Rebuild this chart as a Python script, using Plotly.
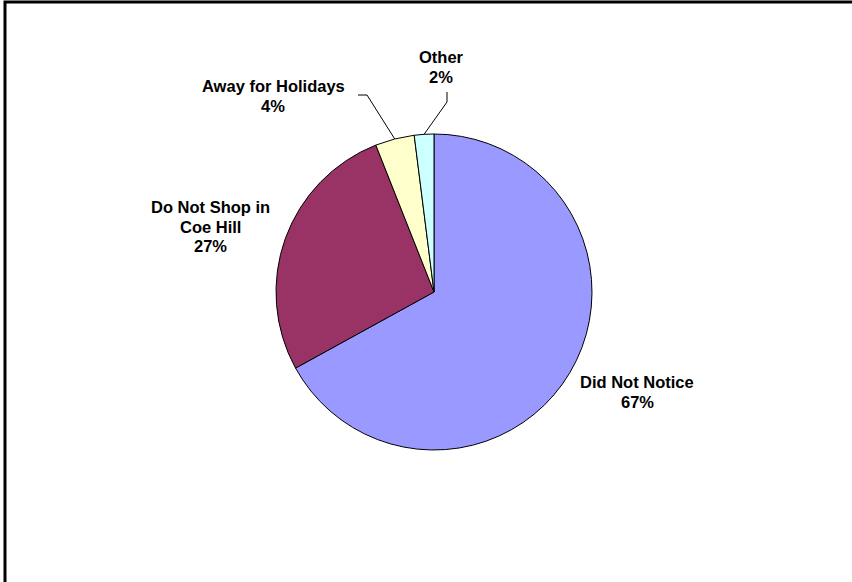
import math
import plotly.graph_objects as go

# Data
categories = ["Did Not Notice", "Do Not Shop in<br>Coe Hill", "Away for Holidays", "Other"]
values = [67, 27, 4, 2]
colors = ["#9999FF", "#993366", "#FFFFCC", "#CCFFFF"]

W, H = 852, 582
CX, CY, R = 434, 292, 158

fig = go.Figure()

fig.add_trace(go.Pie(
    labels=categories, values=values, sort=False, direction="clockwise", rotation=0,
    marker=dict(colors=colors, line=dict(color="#000000", width=1)),
    textinfo="none", hoverinfo="skip", showlegend=False,
    domain=dict(x=[(CX - R) / W, (CX + R) / W], y=[1 - (CY + R) / H, 1 - (CY - R) / H]),
))

# slice mid-angle anchors on the rim
total = sum(values)
cum = 0
anchors = []
pcts = []
for v in values:
    mid = (cum + v / 2) / total * 2 * math.pi
    anchors.append((CX + R * math.sin(mid), CY - R * math.cos(mid)))
    pcts.append(f"{round(v / total * 100)}%")
    cum += v

# label positions: center x, first-line center y (pixel coords)
label_pos = [(637, 382), (210, 207), (273, 86), (441, 57)]
LINE = 19.5

for i, (name, (lx, ly)) in enumerate(zip(categories, label_pos)):
    lines = name.split("<br>") + [pcts[i]]
    for j, t in enumerate(lines):
        fig.add_annotation(x=lx, y=ly + j * LINE, xref="x", yref="y", text=f"<b>{t}</b>",
                           showarrow=False,
                           font=dict(family="Liberation Sans, Arial", size=16.5, color="#000"),
                           xanchor="center", yanchor="middle", align="center")

# leader lines for small slices
ax, ay = anchors[2]
fig.add_trace(go.Scatter(x=[358, 367, ax], y=[95, 95, ay], mode="lines",
                         line=dict(color="#000", width=1), hoverinfo="skip", showlegend=False))
ox, oy = anchors[3]
fig.add_trace(go.Scatter(x=[ox, 447, 447], y=[oy, 102, 92], mode="lines",
                         line=dict(color="#000", width=1), hoverinfo="skip", showlegend=False))

fig.update_xaxes(range=[0, W], visible=False, domain=[0, 1])
fig.update_yaxes(range=[H, 0], visible=False, domain=[0, 1])

fig.add_shape(type="rect", xref="paper", yref="paper",
              x0=5 / W, y0=1 - 2 / H, x1=1.2, y1=-0.2,
              line=dict(color="#000", width=3), layer="above")

fig.update_layout(width=W, height=H, margin=dict(l=0, r=0, t=0, b=0),
                  paper_bgcolor="white", plot_bgcolor="white")

fig.write_html("out.html", config={"displayModeBar": False},
               post_script="document.body.style.margin='0';document.body.style.overflow='hidden';")
